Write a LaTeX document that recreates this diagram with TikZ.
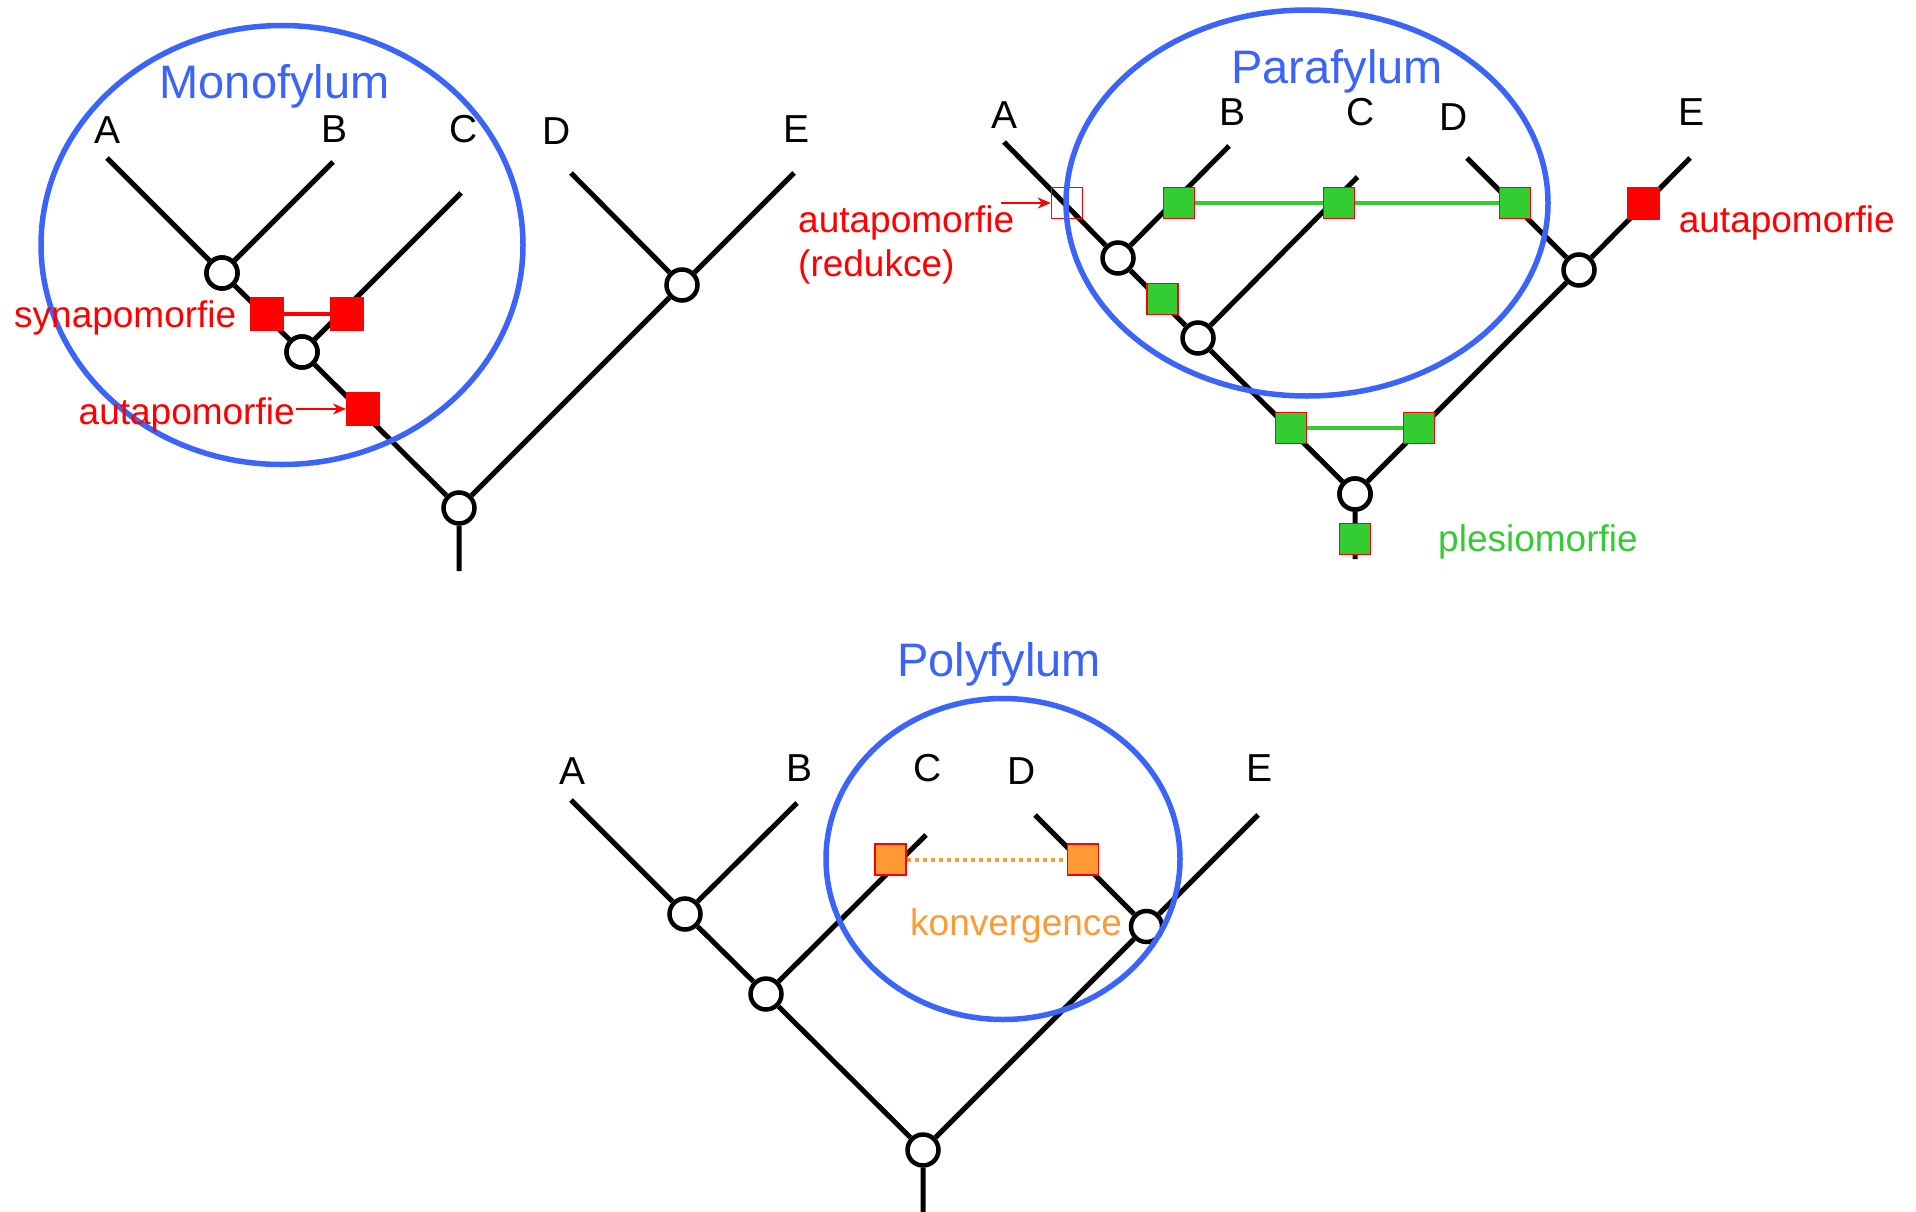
\documentclass[tikz,border=0pt]{standalone}
\usepackage{fontspec}
\setmainfont{Liberation Sans}
\usetikzlibrary{arrows.meta}
\definecolor{cladeblue}{RGB}{58,100,250}
\definecolor{apored}{RGB}{255,0,0}
\definecolor{plesgreen}{RGB}{51,204,51}
\definecolor{convorange}{RGB}{255,153,51}
\tikzset{
  branch/.style={line width=5pt,black},
  inode/.style={circle,draw=black,line width=4.5pt,fill=white,minimum size=31pt,inner sep=0pt},
  sqred/.style={rectangle,fill=apored,draw=apored,line width=1pt,minimum size=32pt,inner sep=0pt},
  sqgreen/.style={rectangle,fill=plesgreen,draw=apored,line width=1.6pt,minimum size=31pt,inner sep=0pt},
  sqopen/.style={rectangle,draw=apored,line width=1.6pt,minimum size=31pt,inner sep=0pt},
  sqorange/.style={rectangle,fill=convorange,draw=apored,line width=1.6pt,minimum size=31pt,inner sep=0pt},
  clade/.style={draw=cladeblue,line width=5.5pt},
  taxon/.style={inner sep=0pt,font=\fontsize{39}{46}\selectfont},
  title/.style={inner sep=0pt,anchor=base,text=cladeblue,font=\fontsize{47}{56}\selectfont},
  note/.style={inner sep=0pt,anchor=base west,font=\fontsize{37}{44}\selectfont},
  redlink/.style={apored,line width=3.5pt},
  greenlink/.style={plesgreen,line width=4pt},
  orangelink/.style={convorange,line width=4pt,dash pattern=on 4pt off 4pt},
  pointer/.style={apored,line width=2pt,-{Stealth[length=13pt,width=11pt]}}
}
\begin{document}
\begin{tikzpicture}[x=1pt,y=-1pt]
\useasboundingbox (0,0) rectangle (1916,1212);
% ================= Monofylum =================
\coordinate (mA) at (107,158);
\coordinate (mB) at (333,162);
\coordinate (mC) at (461,193);
\coordinate (mD) at (571,173);
\coordinate (mE) at (794,173);
\coordinate (mS) at (459,571);
\node[inode] (mAB) at (222,273) {};
\node[inode] (mABC) at (302,352) {};
\node[inode] (mDE) at (682,285) {};
\node[inode] (mR) at (459,508) {};
\draw[branch] (mA) -- (mAB) (mB) -- (mAB) (mAB) -- (mABC) (mC) -- (mABC)
  (mABC) -- (mR) (mD) -- (mDE) (mE) -- (mDE) (mDE) -- (mR) (mR) -- (mS);
\node[sqred,minimum size=33pt] (ms1) at (267,314) {};
\node[sqred,minimum size=33pt] (ms2) at (346.5,314) {};
\draw[redlink] (ms1.east) -- (ms2.west);
\node[sqred,minimum size=33pt] (ma1) at (363,409) {};
\node[inode] at (mAB) {};
\node[inode] at (mABC) {};
\draw[clade] (282,245) ellipse [x radius=241,y radius=219.5];
\node[title] (mT) at (274.6,99) {Monofylum};
\node[taxon] (mlA) at (108,130) {A};
\node[taxon] (mlB) at (335,129) {B};
\node[taxon] (mlC) at (464,129) {C};
\node[taxon] (mlD) at (557,131) {D};
\node[taxon] (mlE) at (796,129) {E};
\node[note,text=apored] (msyn) at (14,327) {synapomorfie};
\node[note,text=apored] (maut) at (78.5,424) {autapomorfie};
\coordinate (maut0) at (295.5,409);
\draw[pointer] (maut0) -- (ma1.west);
% ================= Parafylum =================
\coordinate (pA) at (1004,142);
\coordinate (pB) at (1229,146);
\coordinate (pC) at (1357.5,177);
\coordinate (pD) at (1467,158);
\coordinate (pE) at (1690,158);
\coordinate (pS) at (1355,559);
\node[inode] (pAB) at (1118,258) {};
\node[inode] (pABC) at (1198,338) {};
\node[inode] (pDE) at (1579,270) {};
\node[inode] (pR) at (1355,494) {};
\draw[branch] (pA) -- (pAB) (pB) -- (pAB) (pAB) -- (pABC) (pC) -- (pABC)
  (pABC) -- (pR) (pD) -- (pDE) (pE) -- (pDE) (pDE) -- (pR) (pR) -- (pS);
\node[sqgreen] (pgB) at (1179,203) {};
\node[sqgreen] (pgC) at (1339,203) {};
\node[sqgreen] (pgD) at (1515,203) {};
\node[sqgreen] (pgM) at (1162.6,299) {};
\node[sqgreen] (pgL) at (1291,428) {};
\node[sqgreen] (pgR) at (1419,428) {};
\node[sqgreen] (pgS) at (1355,539) {};
\node[sqred] (prE) at (1643,203) {};
\node[sqopen] (poA) at (1067,203) {};
\draw[greenlink] (pgB.east) -- (pgC.west) (pgC.east) -- (pgD.west);
\draw[greenlink] (pgL.east) -- (pgR.west);
\node[inode] at (pR) {};
\draw[clade] (1307,203) ellipse [x radius=241,y radius=193];
\node[title] (pT) at (1337,83.5) {Parafylum};
\node[taxon] (plA) at (1004.6,114.8) {A};
\node[taxon] (plB) at (1232,112) {B};
\node[taxon] (plC) at (1361,112) {C};
\node[taxon] (plD) at (1454,116.7) {D};
\node[taxon] (plE) at (1691.6,112) {E};
\node[note,text=apored] (paut) at (798,232) {autapomorfie};
\node[note,text=apored] (pred) at (798,276) {(redukce)};
\node[note,text=apored] (paut2) at (1678.6,232) {autapomorfie};
\node[note,text=plesgreen] (pples) at (1438,551) {plesiomorfie};
\coordinate (paut0) at (1001,203);
\draw[pointer] (paut0) -- (poA.west);
% ================= Polyfylum =================
\coordinate (yA) at (571,800);
\coordinate (yB) at (797,803);
\coordinate (yC) at (926,835);
\coordinate (yD) at (1035,815);
\coordinate (yE) at (1258,815);
\coordinate (yS) at (923,1212);
\node[inode] (yAB) at (685,914) {};
\node[inode] (yABC) at (766,994) {};
\node[inode] (yDE) at (1146.5,926.5) {};
\node[inode] (yR) at (923,1150) {};
\draw[branch] (yA) -- (yAB) (yB) -- (yAB) (yAB) -- (yABC) (yC) -- (yABC)
  (yABC) -- (yR) (yD) -- (yDE) (yE) -- (yDE) (yDE) -- (yR) (yR) -- (yS);
\node[sqorange] (yoC) at (890.6,859.6) {};
\node[sqorange] (yoD) at (1083,859.6) {};
\draw[orangelink] (yoC.east) -- (yoD.west);
\node[note,text=convorange] (yconv) at (910,935) {konvergence};
\draw[clade] (1003,859) ellipse [x radius=177,y radius=160.5];
\node[title] (yT) at (999,676.6) {Polyfylum};
\node[taxon] (ylA) at (572.5,771) {A};
\node[taxon] (ylB) at (799.6,768.4) {B};
\node[taxon] (ylC) at (928,768.4) {C};
\node[taxon] (ylD) at (1021.5,771) {D};
\node[taxon] (ylE) at (1259.8,768.4) {E};
\end{tikzpicture}
\end{document}
